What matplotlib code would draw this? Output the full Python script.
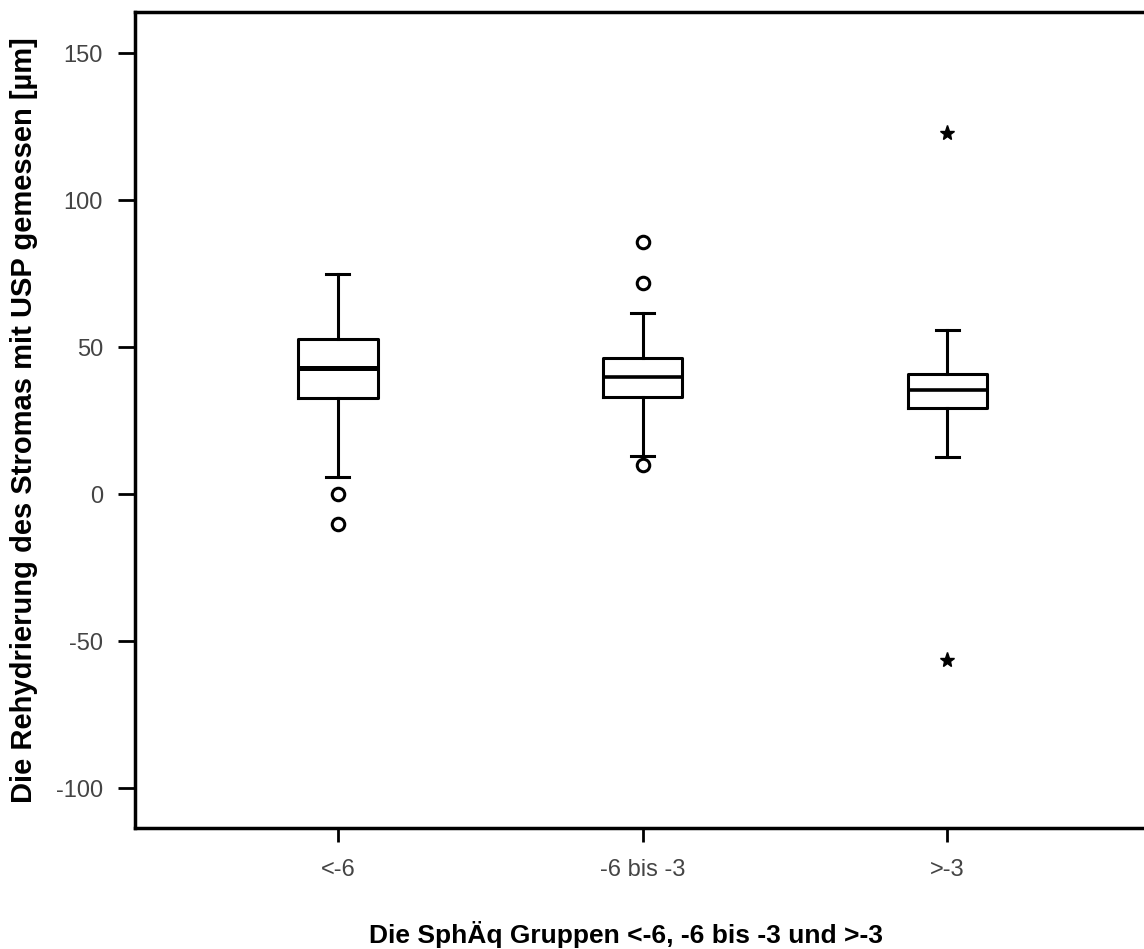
import matplotlib
matplotlib.use("Agg")
import matplotlib.pyplot as plt

plt.rcParams["axes.unicode_minus"] = False

# Box plot data
groups = ["<-6", "-6 bis -3", ">-3"]
whisker_low = [5.8, 12.9, 12.6]
q1 = [32.7, 33.0, 29.3]
median = [42.9, 39.8, 35.4]
q3 = [52.7, 46.3, 40.8]
whisker_high = [74.8, 61.6, 55.8]
outliers = [[0.0, -10.2], [85.7, 71.8, 9.9], []]
extremes = [[], [], [122.8, -56.5]]

ylabel = "Die Rehydrierung des Stromas mit USP gemessen [µm]"
xlabel = "Die SphÄq Gruppen <-6, -6 bis -3 und >-3"

fig = plt.figure(figsize=(11.44, 9.49), dpi=100)
ax = fig.add_axes([135 / 1144, 121 / 949, 1 - 135 / 1144, 816 / 949])

stats = []
for i in range(len(groups)):
    stats.append({"whislo": whisker_low[i], "q1": q1[i], "med": median[i],
                  "q3": q3[i], "whishi": whisker_high[i], "fliers": []})

pos = [1, 2, 3]
res = ax.bxp(stats, positions=pos, widths=0.26, capwidths=0.075, showfliers=False,
             boxprops=dict(color="black", linewidth=2.2),
             whiskerprops=dict(color="black", linewidth=2.2),
             capprops=dict(color="black", linewidth=2.2),
             medianprops=dict(color="black", linewidth=2.6))
res["medians"][0].set_linewidth(3.6)  # first one is drawn heavier

for p, vals in zip(pos, outliers):
    if vals:
        ax.plot([p] * len(vals), vals, "o", ms=9, mfc="white", mec="black", mew=2.2)
for p, vals in zip(pos, extremes):
    if vals:
        ax.plot([p] * len(vals), vals, "*", ms=11, color="black")

ax.set_xlim(0.334, 3.646)
ax.set_ylim(-113.6, 164)
ax.set_yticks([150, 100, 50, 0, -50, -100])
ax.set_xticks(pos)
ax.set_xticklabels(groups)

for s in ["left", "bottom", "top"]:
    ax.spines[s].set_linewidth(2.5)
ax.spines["right"].set_visible(False)

ax.tick_params(axis="y", length=12, width=2, labelsize=17, labelcolor="#444444", pad=11)
ax.tick_params(axis="x", length=10, width=2, labelsize=17, labelcolor="#444444", pad=12)
for lab in ax.get_xticklabels() + ax.get_yticklabels():
    lab.set_family(["Liberation Sans", "DejaVu Sans"])

fig.text(24 / 1144, (949 - 420) / 949, ylabel, rotation=90, ha="center", va="center",
         fontsize=21, fontweight="bold", family=["Liberation Sans", "DejaVu Sans"])
fig.text(626 / 1144, (949 - 934) / 949, xlabel, ha="center", va="center",
         fontsize=19, fontweight="bold", family=["Liberation Sans", "DejaVu Sans"])

fig.savefig("out.png", dpi=100)
